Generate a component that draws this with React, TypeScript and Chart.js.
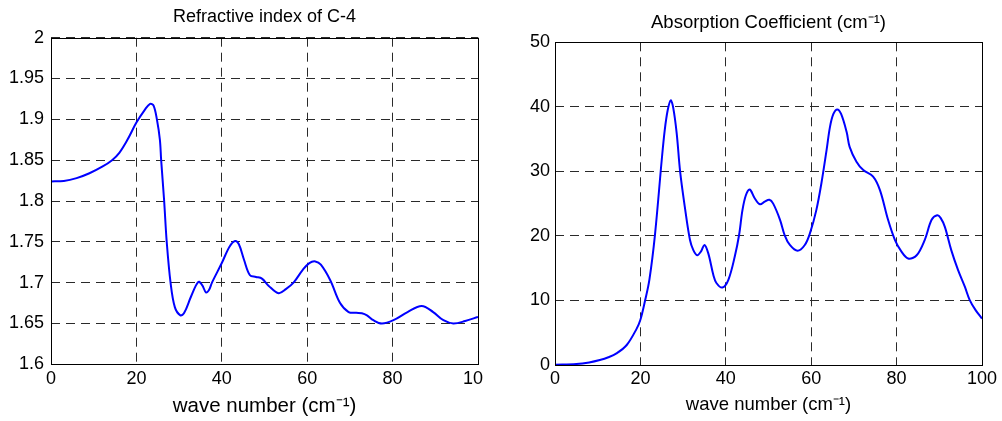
import React, { useEffect, useRef } from "react";
import { Chart, registerables } from "chart.js";

Chart.register(...registerables);

// ---- text ----
const refrTitle = "Refractive index of C-4";
const absTitle = "Absorption Coefficient (cm⁻¹)";
const xAxisTitle = "wave number (cm⁻¹)";

// ---- ticks ----
const xTicks = [0, 20, 40, 60, 80, 100];
const xTickLabels = ["0", "20", "40", "60", "80", "100"];
const refrYTicks = [1.6, 1.65, 1.7, 1.75, 1.8, 1.85, 1.9, 1.95, 2];
const refrYTickLabels = ["1.6", "1.65", "1.7", "1.75", "1.8", "1.85", "1.9", "1.95", "2"];
const absYTicks = [0, 10, 20, 30, 40, 50];
const absYTickLabels = ["0", "10", "20", "30", "40", "50"];

// ---- data: refractive index ----
const refrWave = [
  0, 3, 6, 9, 12, 14.3, 16, 17.8, 20, 22, 23.2, 24, 24.8, 25.5, 25.8, 26.5, 27.1, 28, 29, 30.3,
  31.2, 32.8, 34.5, 35.4, 36.3, 37, 37.7, 40, 41.8, 43.1, 44, 45.2, 46.6, 48, 49.4, 51, 53.3, 55,
  56.8, 59, 60.5, 61.9, 63.2, 65.4, 67.7, 69.7, 71.5, 72.8, 74, 75.5, 77.5, 80.2, 83.5, 86.8, 89.5,
  91.9, 94.2, 97, 100,
];
const refrIndex = [
  1.824, 1.8245, 1.828, 1.834, 1.842, 1.85, 1.859, 1.874, 1.896, 1.912, 1.919, 1.917, 1.9, 1.875,
  1.85, 1.8, 1.75, 1.7, 1.67, 1.66, 1.663, 1.683, 1.701, 1.697, 1.688, 1.691, 1.7, 1.724, 1.744,
  1.751, 1.747, 1.728, 1.709, 1.707, 1.705, 1.696, 1.687, 1.692, 1.7, 1.716, 1.724, 1.726, 1.722,
  1.703, 1.675, 1.664, 1.663, 1.6625, 1.66, 1.654, 1.65, 1.654, 1.664, 1.6714, 1.664, 1.654, 1.65,
  1.653, 1.658,
];

// ---- data: absorption coefficient ----
const absWave = [
  0, 5, 8, 10.5, 12.5, 14.4, 16.8, 19.1, 20, 21.1, 22.1, 23.4, 25, 25.7, 26.4, 27.1, 27.7, 28.5,
  29.3, 30.4, 31.6, 32.4, 33.3, 34.2, 35, 35.9, 37.1, 37.8, 39.2, 40.6, 42.1, 43.1, 43.9, 44.7,
  45.6, 46.8, 48, 49.1, 50.2, 51.1, 52.7, 53.8, 55, 56.8, 58.5, 59.7, 61.2, 62.4, 63.6, 64.4, 65.2,
  66.1, 67, 68.3, 69, 70.6, 72.2, 74.5, 76.1, 78, 79.6, 81.1, 82.7, 84.7, 86.6, 88.2, 89.5, 90.3,
  91.3, 92.8, 94.4, 96, 97.1, 98.5, 100,
];
const absCoef = [
  0.05, 0.15, 0.4, 0.77, 1.2, 1.8, 3.1, 5.6, 7.0, 10, 13.2, 20.1, 31.8, 36.4, 39.5, 41, 39.8, 35.9,
  30, 24.5, 19.4, 17.8, 17, 17.6, 18.6, 17.3, 13.9, 12.7, 12, 13.2, 16.8, 20.1, 24, 26.3,
  27.2, 25.8, 24.9, 25.3, 25.6, 25, 22.5, 20.1, 18.6, 17.7, 18.6, 20.4, 24, 28.2, 33.3, 36.9, 38.9,
  39.6, 38.9, 36.1, 33.8, 31.5, 30.2, 29.2, 27.1, 22.5, 19.4, 17.6, 16.5, 17, 19.4, 22.5, 23.2, 22.8,
  21.4, 17.8, 14.7, 12.1, 10.1, 8.5, 7.2,
];

const FONT = "'Liberation Sans', Arial, Helvetica, sans-serif";

const boxPlugin = {
  id: "axesBox",
  afterDatasetsDraw(chart: any) {
    const { ctx, chartArea } = chart;
    const l = Math.round(chartArea.left) + 0.5;
    const t = Math.round(chartArea.top) + 0.5;
    const r = Math.round(chartArea.right) + 0.5;
    const b = Math.round(chartArea.bottom) + 0.5;
    ctx.save();
    ctx.strokeStyle = "#000";
    ctx.lineWidth = 1;
    ctx.strokeRect(l, t, r - l, b - t);
    ctx.restore();
  },
};

type PanelProps = {
  left: number;
  width: number;
  title: string;
  titleSize: number;
  titlePadTop: number;
  titlePadBottom: number;
  xs: number[];
  ys: number[];
  yMin: number;
  yMax: number;
  yTicks: number[];
  yTickLabels: string[];
  yWidth: number;
  yTickPad: number;
  xHeight: number;
  xTickPad: number;
  xTitleSize: number;
  xTitlePadBottom: number;
  padRight: number;
  clipRightLabel: boolean;
  tickSize: number;
};

function Panel(p: PanelProps) {
  const ref = useRef<HTMLCanvasElement | null>(null);
  useEffect(() => {
    if (!ref.current) return;
    const gridOpts = { color: "#2a2a2a", lineWidth: 1, drawTicks: false };
    const chart = new Chart(ref.current, {
      type: "line",
      data: {
        datasets: [
          {
            data: p.xs.map((x, i) => ({ x, y: p.ys[i] })),
            borderColor: "#0000ff",
            borderWidth: 2,
            pointRadius: 0,
            fill: false,
            tension: 0.35,
          },
        ],
      },
      options: {
        animation: false,
        responsive: false,
        devicePixelRatio: 1,
        layout: { padding: { left: 0, right: p.padRight, top: 0, bottom: 0 } },
        plugins: {
          legend: { display: false },
          tooltip: { enabled: false },
          title: {
            display: true,
            text: p.title,
            fullSize: false,
            color: "#000",
            font: { family: FONT, size: p.titleSize, weight: "normal" },
            padding: { top: p.titlePadTop, bottom: p.titlePadBottom },
          },
        },
        scales: {
          x: {
            type: "linear",
            min: 0,
            max: 100,
            afterBuildTicks: (s: any) => {
              s.ticks = xTicks.map((v) => ({ value: v }));
            },
            afterFit: (s: any) => {
              s.height = p.xHeight;
              if (p.clipRightLabel) s.paddingRight = 0;
            },
            ticks: {
              autoSkip: false,
              maxRotation: 0,
              color: "#000",
              padding: p.xTickPad,
              font: { family: FONT, size: p.tickSize },
              callback: (v: any) => xTickLabels[xTicks.indexOf(Number(v))],
            },
            grid: gridOpts,
            border: { display: false, dash: [9, 6] },
            title: {
              display: true,
              text: xAxisTitle,
              color: "#000",
              font: { family: FONT, size: p.xTitleSize },
              padding: { top: 0, bottom: p.xTitlePadBottom },
            },
          },
          y: {
            type: "linear",
            min: p.yMin,
            max: p.yMax,
            afterBuildTicks: (s: any) => {
              s.ticks = p.yTicks.map((v) => ({ value: v }));
            },
            afterFit: (s: any) => {
              s.width = p.yWidth;
            },
            ticks: {
              autoSkip: false,
              color: "#000",
              padding: p.yTickPad,
              font: { family: FONT, size: p.tickSize },
              callback: (v: any) => p.yTickLabels[p.yTicks.indexOf(Number(v))],
            },
            grid: gridOpts,
            border: { display: false, dash: [9, 6] },
          },
        },
      } as any,
      plugins: [boxPlugin],
    });
    return () => chart.destroy();
  }, []);
  return (
    <div style={{ position: "absolute", left: p.left, top: 0, width: p.width, height: 421, overflow: "hidden" }}>
      <canvas ref={ref} width={p.width} height={421} style={{ display: "block" }} />
    </div>
  );
}

export default function App() {
  return (
    <div style={{ position: "fixed", left: 0, top: 0, width: 1002, height: 421, background: "#fff", overflow: "hidden" }}>
      <Panel
        left={0}
        width={483}
        title={refrTitle}
        titleSize={18}
        titlePadTop={6.5}
        titlePadBottom={9.6}
        xs={refrWave}
        ys={refrIndex}
        yMin={1.6}
        yMax={2}
        yTicks={refrYTicks}
        yTickLabels={refrYTickLabels}
        yWidth={51}
        yTickPad={7}
        xHeight={56.7}
        xTickPad={3.7}
        xTitleSize={20.5}
        xTitlePadBottom={2.8}
        padRight={5}
        clipRightLabel={true}
        tickSize={18}
      />
      <Panel
        left={490}
        width={512}
        title={absTitle}
        titleSize={18.5}
        titlePadTop={11.4}
        titlePadBottom={8.7}
        xs={absWave}
        ys={absCoef}
        yMin={0}
        yMax={50}
        yTicks={absYTicks}
        yTickLabels={absYTickLabels}
        yWidth={65}
        yTickPad={5}
        xHeight={56}
        xTickPad={3}
        xTitleSize={18.5}
        xTitlePadBottom={4.6}
        padRight={20}
        clipRightLabel={false}
        tickSize={18}
      />
    </div>
  );
}
